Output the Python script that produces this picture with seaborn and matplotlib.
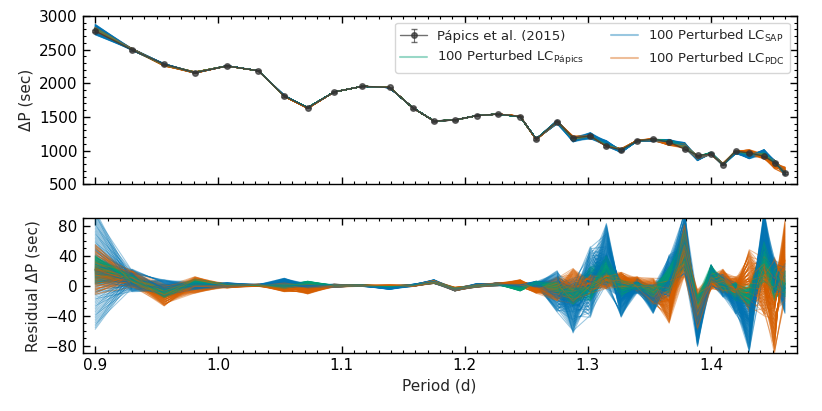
import numpy as np
import pandas as pd
import seaborn as sns
import matplotlib
matplotlib.use('Agg')
import matplotlib.pyplot as plt
from matplotlib.lines import Line2D
from matplotlib.ticker import MultipleLocator

# 1. data
PERIOD = [0.900, 0.930, 0.956, 0.981, 1.007, 1.0325, 1.0535, 1.0725, 1.094, 1.117,
          1.139, 1.158, 1.175, 1.192, 1.210, 1.227, 1.245, 1.258, 1.275, 1.288,
          1.302, 1.315, 1.327, 1.340, 1.353, 1.366, 1.3785, 1.389, 1.400, 1.4096,
          1.420, 1.431, 1.443, 1.4515, 1.460]
DELTA_P = [2777, 2495, 2283, 2158, 2257, 2185, 1810, 1635, 1871, 1955,
           1938, 1632, 1436, 1456, 1520, 1540, 1505, 1169, 1431, 1190,
           1215, 1065, 1010, 1144, 1170, 1125, 1020, 930, 946, 790,
           990, 965, 915, 820, 668]
DELTA_P_ERR = [12, 10, 10, 10, 10, 10, 10, 10, 10, 10,
               10, 10, 10, 10, 10, 10, 10, 10, 10, 10,
               10, 10, 10, 10, 10, 10, 10, 10, 10, 10,
               10, 10, 10, 10, 12]

# residual envelopes (lowest / highest of the 100 perturbed curves)
SAP_LO = [-58, -8, -16, -5, -2, -1, -3, -3, -2, -1, -5, -1, 3, -7, -2, 0, -2, -2, -35, -63,
          -42, -5, -42, -10, -37, -15, 15, -81, 0, -15, -38, -88, 20, -10, -37]
SAP_HI = [100, 22, 8, 6, 4, 2, 10, 3, 2, 1, 0, 2, 8, -3, 3, 4, 3, 6, 20, 10,
          52, 83, 5, 10, 2, 41, 100, -15, 28, 15, 5, -5, 100, 36, 30]
PDC_LO = [-12, -2, -27, -10, -3, -1, -8, -11, -2, -1, -2, -1, 3, -7, -2, 0, -2, -10, -20, -25,
          -10, -4, -5, -8, -25, -50, 12, -60, -5, -10, -15, -35, -40, -90, -20]
PDC_HI = [55, 20, 2, 12, 3, 2, 4, 3, 2, 1, 1, 1, 7, -2, 2, 4, 8, 2, 12, 23,
          15, 23, 18, 12, 10, 10, 85, -5, 15, 22, 12, 48, 40, 38, 87]
PAP_LO = [2, 4, -16, 0, 0, 0, -4, 0, -1, -1, -2, 0, 4, -5, -1, 1, -7, 2, -10, -25,
          -20, 5, -15, -5, -15, -10, 20, -45, 5, -8, -20, -30, 5, -20, -15]
PAP_HI = [40, 14, -4, 9, 2, 1, 2, 6, 1, 1, 0, 1, 6, -3, 1, 3, 0, 6, 5, 0,
          25, 40, 8, 5, 0, 25, 75, -12, 28, 10, 5, 0, 60, 30, 20]

N_RUNS = 100
# individual realisations cannot be read, so spread them over each envelope
# with a fixed permutation per point (keeps lines crossing like the original)
STRIDES = [1, 3, 7, 9, 11, 13, 17, 19, 21, 23, 27, 29, 31, 33, 37, 39, 41, 43, 47, 49]

C_SAP = '#0173b2'
C_PAP = '#029e73'
C_PDC = '#d55e00'


def build_runs(lo, hi, k):
    lo = np.asarray(lo, float)
    hi = np.asarray(hi, float)
    mid = (lo + hi) / 2
    half = (hi - lo) / 2
    runs = np.arange(N_RUNS)
    rows = []
    for j in range(len(PERIOD)):
        rank = (runs * STRIDES[(3 * j + 5 * k) % len(STRIDES)] + 37 * j + 11 * k) % N_RUNS
        u = 2 * rank / (N_RUNS - 1) - 1
        res = mid[j] + half[j] * np.sign(u) * np.abs(u) ** 1.4
        for r, v in zip(runs, res):
            rows.append({'period': PERIOD[j], 'run': r, 'resid': v, 'dp': DELTA_P[j] + v})
    return pd.DataFrame(rows)


sns.set_style('ticks')
plt.rcParams['font.family'] = ['DejaVu Sans']
plt.rcParams['axes.linewidth'] = 1.0
plt.rcParams['xtick.color'] = 'black'
plt.rcParams['ytick.color'] = 'black'
plt.rcParams['axes.edgecolor'] = 'black'

fig, (ax1, ax2) = plt.subplots(2, 1, figsize=(8.22, 4.11), dpi=100, sharex=True,
                               gridspec_kw={'height_ratios': [168, 135]})
fig.subplots_adjust(left=0.1004, right=0.9692, top=0.9611, bottom=0.1404, hspace=0.224)

# the three sets were drawn run by run, so interleave them through zorder
sets = [('Papics', PAP_LO, PAP_HI, C_PAP, 0), ('SAP', SAP_LO, SAP_HI, C_SAP, 1),
        ('PDC', PDC_LO, PDC_HI, C_PDC, 2)]
for name, lo, hi, col, k in sets:
    df = build_runs(lo, hi, k)
    for ax, ycol in ((ax1, 'dp'), (ax2, 'resid')):
        n0 = len(ax.lines)
        sns.lineplot(data=df, x='period', y=ycol, units='run', estimator=None, color=col,
                     lw=0.75, alpha=0.4, ax=ax, legend=False)
        for i, ln in enumerate(ax.lines[n0:]):
            ln.set_zorder(1 + i * 0.003 + k * 0.001)

eb = ax1.errorbar(PERIOD, DELTA_P, yerr=DELTA_P_ERR, fmt='-o', color='#333333', alpha=0.7,
                  ms=4, lw=1.0, elinewidth=0.8, capsize=2, zorder=10)

handles = [eb,
           Line2D([], [], color=C_PAP, alpha=0.4, lw=1.5),
           Line2D([], [], color=C_SAP, alpha=0.4, lw=1.5),
           Line2D([], [], color=C_PDC, alpha=0.4, lw=1.5)]
labels = ['Pápics et al. (2015)',
          r'100 Perturbed LC$_\mathregular{Pápics}$',
          r'100 Perturbed LC$_\mathregular{SAP}$',
          r'100 Perturbed LC$_\mathregular{PDC}$']
leg = ax1.legend(handles, labels, ncol=2, loc='upper right', fontsize=9.5,
                 columnspacing=2.0, borderaxespad=0.5)
leg.set_zorder(20)

ax1.set_ylim(500, 3000)
ax2.set_ylim(-90, 90)
ax2.set_xlim(0.8897, 1.4695)

ax1.yaxis.set_major_locator(MultipleLocator(500))
ax1.yaxis.set_minor_locator(MultipleLocator(100))
ax2.yaxis.set_major_locator(MultipleLocator(40))
ax2.yaxis.set_minor_locator(MultipleLocator(10))
ax2.xaxis.set_major_locator(MultipleLocator(0.1))
ax2.xaxis.set_minor_locator(MultipleLocator(0.01))

for ax in (ax1, ax2):
    ax.tick_params(which='both', direction='in', top=True, right=True, labelsize=11)
    ax.tick_params(which='major', length=5, width=1)
    ax.tick_params(which='minor', length=2.5, width=0.8)
    ax.set_xlabel('')

ax1.tick_params(labelbottom=False)
ax1.set_ylabel('ΔP (sec)', fontsize=11)
ax2.set_ylabel('Residual ΔP (sec)', fontsize=11)
ax2.set_xlabel('Period (d)', fontsize=11)

fig.savefig('out.png', dpi=100)
